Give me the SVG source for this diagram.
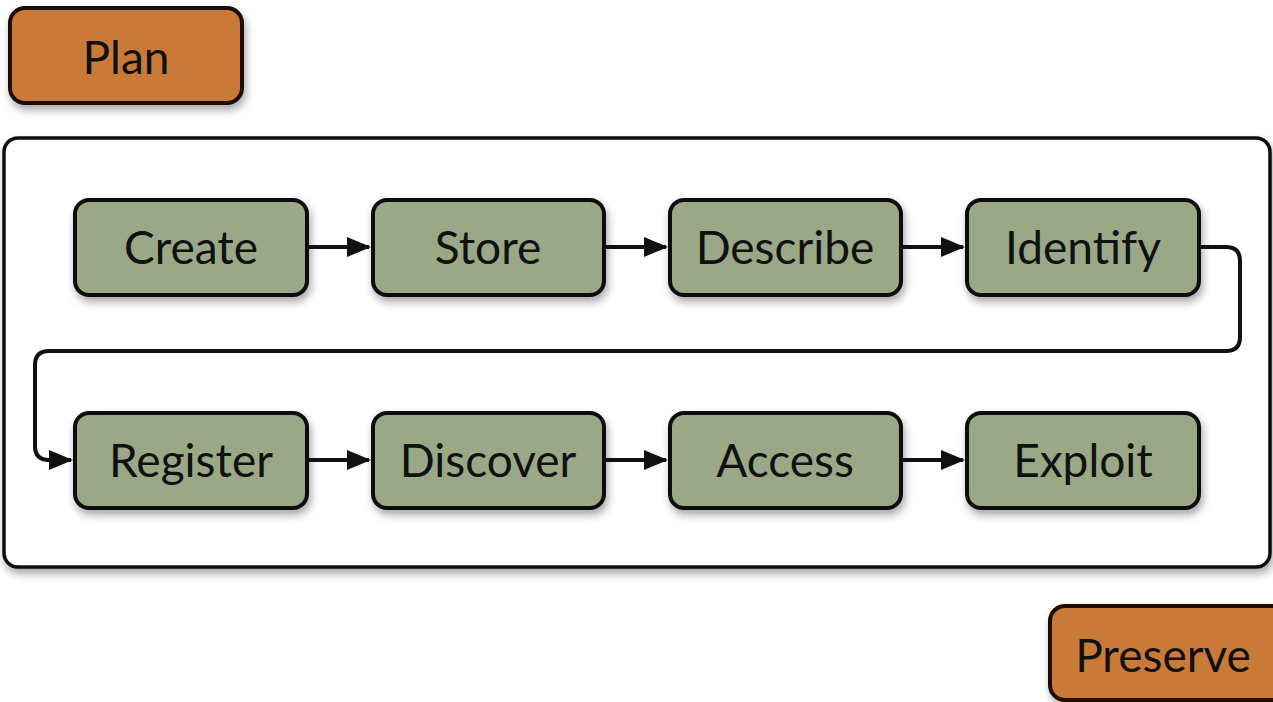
<svg xmlns="http://www.w3.org/2000/svg" width="1273" height="702" viewBox="0 0 1273 702">
<defs>
<filter id="sh" x="-10%" y="-10%" width="130%" height="140%">
<feDropShadow dx="2" dy="5" stdDeviation="4" flood-color="#000" flood-opacity="0.35"/>
</filter>
<marker id="ah" markerWidth="6" markerHeight="5" refX="5.5" refY="2.5" orient="auto" markerUnits="strokeWidth">
<path d="M0,0 L6,2.5 L0,5 Z" fill="#111"/>
</marker>
<style>
.g{fill:#9aa887;stroke:#111;stroke-width:4;filter:url(#sh)}
.o{fill:#c97938;stroke:#1a0d05;stroke-width:4;filter:url(#sh)}
.t{font-family:Lato,"Open Sans",sans-serif;font-size:46px;fill:#111;text-anchor:middle;dominant-baseline:central}
.c{fill:none;stroke:#111;stroke-width:4}
</style>
</defs>
<rect width="1273" height="702" fill="#fff"/>
<rect x="4" y="138" width="1266" height="429" rx="14" fill="#fff" stroke="#111" stroke-width="3.5" filter="url(#sh)"/>
<g id="plan"><rect class="o" x="10" y="8" width="232" height="95" rx="15"/><text class="t" x="126" y="56">Plan</text></g>
<g id="preserve"><rect class="o" x="1050" y="606" width="240" height="94" rx="15"/><text class="t" x="1163" y="654">Preserve</text></g>
<g id="create"><rect class="g" x="75" y="200" width="232" height="95" rx="14"/><text class="t" x="191" y="246">Create</text></g>
<g id="store"><rect class="g" x="373" y="200" width="231" height="95" rx="14"/><text class="t" x="488" y="246">Store</text></g>
<g id="describe"><rect class="g" x="670" y="200" width="231" height="95" rx="14"/><text class="t" x="785" y="246">Describe</text></g>
<g id="identify"><rect class="g" x="967" y="200" width="232" height="95" rx="14"/><text class="t" x="1083" y="246">Identify</text></g>
<g id="register"><rect class="g" x="75" y="413" width="232" height="95" rx="14"/><text class="t" x="191" y="459">Register</text></g>
<g id="discover"><rect class="g" x="373" y="413" width="231" height="95" rx="14"/><text class="t" x="488" y="459">Discover</text></g>
<g id="access"><rect class="g" x="670" y="413" width="231" height="95" rx="14"/><text class="t" x="785" y="459">Access</text></g>
<g id="exploit"><rect class="g" x="967" y="413" width="232" height="95" rx="14"/><text class="t" x="1083" y="459">Exploit</text></g>
<g id="connectors">
<path class="c" d="M309,247 H369" marker-end="url(#ah)"/>
<path class="c" d="M606,247 H666" marker-end="url(#ah)"/>
<path class="c" d="M903,247 H963" marker-end="url(#ah)"/>
<path class="c" d="M1201,247 H1226 Q1240,247 1240,261 V337 Q1240,351 1226,351 H49 Q35,351 35,365 V446 Q35,460 49,460 H71" marker-end="url(#ah)"/>
<path class="c" d="M309,460 H369" marker-end="url(#ah)"/>
<path class="c" d="M606,460 H666" marker-end="url(#ah)"/>
<path class="c" d="M903,460 H963" marker-end="url(#ah)"/>
</g>
</svg>
